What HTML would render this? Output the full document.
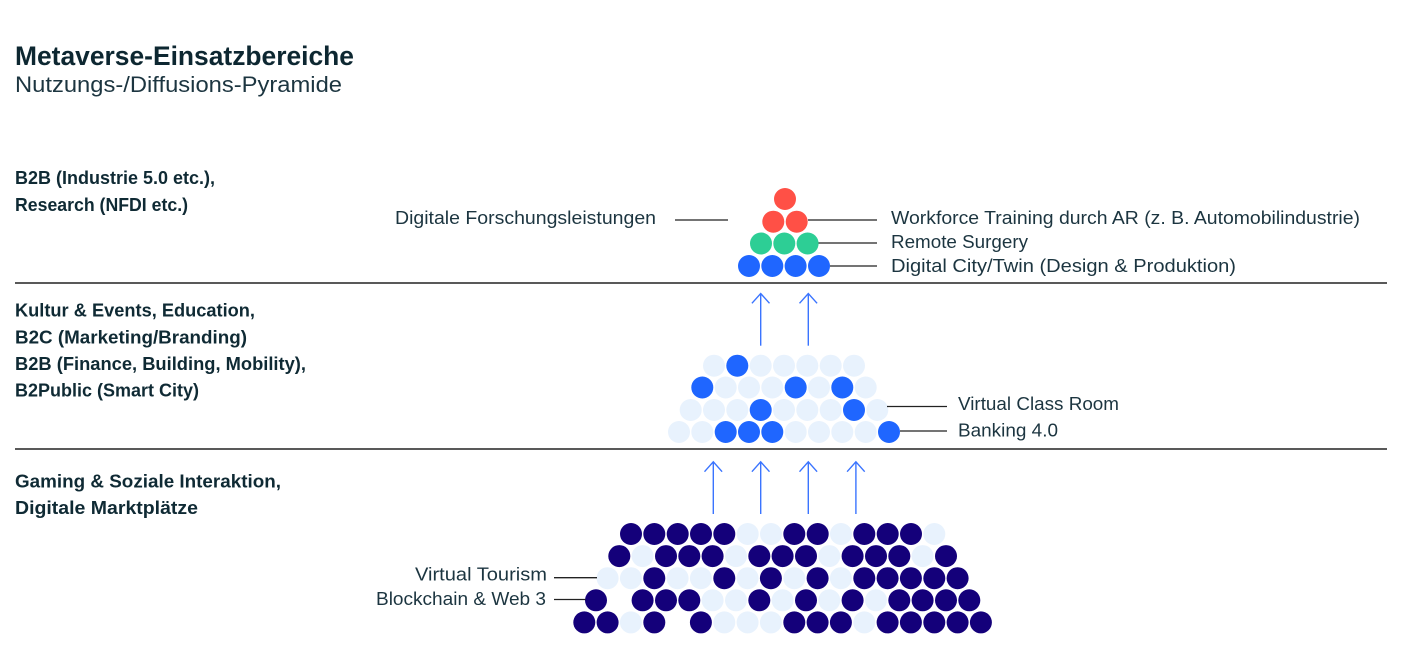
<!DOCTYPE html>
<html>
<head>
<meta charset="utf-8">
<style>
  html,body{margin:0;padding:0;background:#fff;}
  body{width:1408px;height:660px;overflow:hidden;}
  svg{display:block;}
  .t{font-family:"Liberation Sans",sans-serif;}
  .h{font-weight:bold;fill:#0d2731;}
  .lb{font-weight:bold;fill:#0f2a34;font-size:18px;}
  .rl{fill:#1c3540;font-size:18px;}
  .d{fill:#14007a;}
  .l{fill:#e8f2fd;}
  .b{fill:#1f66ff;}
  .r{fill:#ff5046;}
  .g{fill:#2dce95;}
  .ln{stroke:#222;stroke-width:1.3;fill:none;}
  .ar{stroke:#3a74ff;stroke-width:1.4;fill:none;}
</style>
</head>
<body>
<svg width="1408" height="660" viewBox="0 0 1408 660" xmlns="http://www.w3.org/2000/svg">
  <!-- Title -->
  <text class="t h" x="15" y="65" font-size="27" textLength="339" lengthAdjust="spacingAndGlyphs">Metaverse-Einsatzbereiche</text>
  <text class="t" x="15" y="92" font-size="22" fill="#1c3540" textLength="327" lengthAdjust="spacingAndGlyphs">Nutzungs-/Diffusions-Pyramide</text>

  <!-- Left labels -->
  <text class="t lb" x="15" y="184" textLength="200" lengthAdjust="spacingAndGlyphs">B2B (Industrie 5.0 etc.),</text>
  <text class="t lb" x="15" y="211" textLength="173" lengthAdjust="spacingAndGlyphs">Research (NFDI etc.)</text>

  <text class="t lb" x="15" y="316.5" textLength="240" lengthAdjust="spacingAndGlyphs">Kultur &amp; Events, Education,</text>
  <text class="t lb" x="15" y="343.5" textLength="232" lengthAdjust="spacingAndGlyphs">B2C (Marketing/Branding)</text>
  <text class="t lb" x="15" y="370" textLength="291" lengthAdjust="spacingAndGlyphs">B2B (Finance, Building, Mobility),</text>
  <text class="t lb" x="15" y="396.5" textLength="184" lengthAdjust="spacingAndGlyphs">B2Public (Smart City)</text>

  <text class="t lb" x="15" y="487.5" textLength="266" lengthAdjust="spacingAndGlyphs">Gaming &amp; Soziale Interaktion,</text>
  <text class="t lb" x="15" y="514" textLength="183" lengthAdjust="spacingAndGlyphs">Digitale Marktplätze</text>

  <!-- Rules -->
  <line x1="15" y1="283" x2="1387" y2="283" stroke="#222" stroke-width="1.5"/>
  <line x1="15" y1="449" x2="1387" y2="449" stroke="#222" stroke-width="1.5"/>

  <!-- Top pyramid -->
  <circle class="r" cx="785" cy="199" r="11"/>
  <circle class="r" cx="773.3" cy="221.7" r="11"/>
  <circle class="r" cx="796.7" cy="221.7" r="11"/>
  <circle class="g" cx="761" cy="243.5" r="11"/>
  <circle class="g" cx="784.3" cy="243.5" r="11"/>
  <circle class="g" cx="807.6" cy="243.5" r="11"/>
  <circle class="b" cx="749" cy="266" r="11"/>
  <circle class="b" cx="772.3" cy="266" r="11"/>
  <circle class="b" cx="795.6" cy="266" r="11"/>
  <circle class="b" cx="819" cy="266" r="11"/>

  <!-- Top labels -->
  <text class="t rl" x="395" y="224" textLength="261" lengthAdjust="spacingAndGlyphs">Digitale Forschungsleistungen</text>
  <line class="ln" x1="675" y1="220" x2="728" y2="220"/>
  <line class="ln" x1="808" y1="220" x2="877" y2="220"/>
  <line class="ln" x1="818.5" y1="243" x2="877" y2="243"/>
  <line class="ln" x1="830" y1="266" x2="877" y2="266"/>
  <text class="t rl" x="891" y="224" textLength="469" lengthAdjust="spacingAndGlyphs">Workforce Training durch AR (z. B. Automobilindustrie)</text>
  <text class="t rl" x="891" y="248" textLength="137" lengthAdjust="spacingAndGlyphs">Remote Surgery</text>
  <text class="t rl" x="891" y="272" textLength="345" lengthAdjust="spacingAndGlyphs">Digital City/Twin (Design &amp; Produktion)</text>

  <!-- Top arrows -->
  <line class="ar" x1="760.7" y1="345.7" x2="760.7" y2="294"/>
  <polyline class="ar" points="751.9,303.3 760.7,293.5 769.5,303.3"/>
  <line class="ar" x1="808.3" y1="345.7" x2="808.3" y2="294"/>
  <polyline class="ar" points="799.5,303.3 808.3,293.5 817.1,303.3"/>

  <!-- Middle pyramid -->
  <!-- row1 -->
  <circle class="l" cx="714" cy="365.7" r="11"/>
  <circle class="b" cx="737.3" cy="365.7" r="11"/>
  <circle class="l" cx="760.7" cy="365.7" r="11"/>
  <circle class="l" cx="784" cy="365.7" r="11"/>
  <circle class="l" cx="807.3" cy="365.7" r="11"/>
  <circle class="l" cx="830.7" cy="365.7" r="11"/>
  <circle class="l" cx="854" cy="365.7" r="11"/>
  <!-- row2 -->
  <circle class="b" cx="702.3" cy="387.5" r="11"/>
  <circle class="l" cx="725.7" cy="387.5" r="11"/>
  <circle class="l" cx="749" cy="387.5" r="11"/>
  <circle class="l" cx="772.3" cy="387.5" r="11"/>
  <circle class="b" cx="795.7" cy="387.5" r="11"/>
  <circle class="l" cx="819" cy="387.5" r="11"/>
  <circle class="b" cx="842.3" cy="387.5" r="11"/>
  <circle class="l" cx="865.7" cy="387.5" r="11"/>
  <!-- row3 -->
  <circle class="l" cx="690.7" cy="410" r="11"/>
  <circle class="l" cx="714" cy="410" r="11"/>
  <circle class="l" cx="737.3" cy="410" r="11"/>
  <circle class="b" cx="760.7" cy="410" r="11"/>
  <circle class="l" cx="784" cy="410" r="11"/>
  <circle class="l" cx="807.3" cy="410" r="11"/>
  <circle class="l" cx="830.7" cy="410" r="11"/>
  <circle class="b" cx="854" cy="410" r="11"/>
  <circle class="l" cx="877.3" cy="410" r="11"/>
  <!-- row4 -->
  <circle class="l" cx="679" cy="432" r="11"/>
  <circle class="l" cx="702.3" cy="432" r="11"/>
  <circle class="b" cx="725.7" cy="432" r="11"/>
  <circle class="b" cx="749" cy="432" r="11"/>
  <circle class="b" cx="772.3" cy="432" r="11"/>
  <circle class="l" cx="795.7" cy="432" r="11"/>
  <circle class="l" cx="819" cy="432" r="11"/>
  <circle class="l" cx="842.3" cy="432" r="11"/>
  <circle class="l" cx="865.7" cy="432" r="11"/>
  <circle class="b" cx="889" cy="432" r="11"/>

  <!-- Middle labels -->
  <line class="ln" x1="887" y1="406.5" x2="947" y2="406.5"/>
  <line class="ln" x1="900" y1="431" x2="947" y2="431"/>
  <text class="t rl" x="958" y="410" textLength="161" lengthAdjust="spacingAndGlyphs">Virtual Class Room</text>
  <text class="t rl" x="958" y="436.5" textLength="100" lengthAdjust="spacingAndGlyphs">Banking 4.0</text>

  <!-- Bottom arrows -->
  <line class="ar" x1="713.3" y1="514" x2="713.3" y2="462.3"/>
  <polyline class="ar" points="704.5,471.7 713.3,461.8 722.1,471.7"/>
  <line class="ar" x1="760.7" y1="514" x2="760.7" y2="462.3"/>
  <polyline class="ar" points="751.9,471.7 760.7,461.8 769.5,471.7"/>
  <line class="ar" x1="808.3" y1="514" x2="808.3" y2="462.3"/>
  <polyline class="ar" points="799.5,471.7 808.3,461.8 817.1,471.7"/>
  <line class="ar" x1="855.9" y1="514" x2="855.9" y2="462.3"/>
  <polyline class="ar" points="847.1,471.7 855.9,461.8 864.7,471.7"/>

  <!-- Bottom pyramid -->
  <!-- row1 y=534 : D D D D D L L D D L D D D L -->
  <circle class="d" cx="631.0" cy="534" r="11"/>
  <circle class="d" cx="654.3" cy="534" r="11"/>
  <circle class="d" cx="677.7" cy="534" r="11"/>
  <circle class="d" cx="701.0" cy="534" r="11"/>
  <circle class="d" cx="724.3" cy="534" r="11"/>
  <circle class="l" cx="747.7" cy="534" r="11"/>
  <circle class="l" cx="771.0" cy="534" r="11"/>
  <circle class="d" cx="794.3" cy="534" r="11"/>
  <circle class="d" cx="817.7" cy="534" r="11"/>
  <circle class="l" cx="841.0" cy="534" r="11"/>
  <circle class="d" cx="864.3" cy="534" r="11"/>
  <circle class="d" cx="887.7" cy="534" r="11"/>
  <circle class="d" cx="911.0" cy="534" r="11"/>
  <circle class="l" cx="934.3" cy="534" r="11"/>
  <!-- row2 y=556.1 : D L D D D L D D D L D D D L D -->
  <circle class="d" cx="619.3" cy="556.1" r="11"/>
  <circle class="l" cx="642.6" cy="556.1" r="11"/>
  <circle class="d" cx="666.0" cy="556.1" r="11"/>
  <circle class="d" cx="689.3" cy="556.1" r="11"/>
  <circle class="d" cx="712.6" cy="556.1" r="11"/>
  <circle class="l" cx="736.0" cy="556.1" r="11"/>
  <circle class="d" cx="759.3" cy="556.1" r="11"/>
  <circle class="d" cx="782.6" cy="556.1" r="11"/>
  <circle class="d" cx="806.0" cy="556.1" r="11"/>
  <circle class="l" cx="829.3" cy="556.1" r="11"/>
  <circle class="d" cx="852.6" cy="556.1" r="11"/>
  <circle class="d" cx="876.0" cy="556.1" r="11"/>
  <circle class="d" cx="899.3" cy="556.1" r="11"/>
  <circle class="l" cx="922.6" cy="556.1" r="11"/>
  <circle class="d" cx="946.0" cy="556.1" r="11"/>
  <!-- row3 y=578.2 : L L D L L D L D L D L D D D D D -->
  <circle class="l" cx="607.6" cy="578.2" r="11"/>
  <circle class="l" cx="630.9" cy="578.2" r="11"/>
  <circle class="d" cx="654.3" cy="578.2" r="11"/>
  <circle class="l" cx="677.6" cy="578.2" r="11"/>
  <circle class="l" cx="700.9" cy="578.2" r="11"/>
  <circle class="d" cx="724.3" cy="578.2" r="11"/>
  <circle class="l" cx="747.6" cy="578.2" r="11"/>
  <circle class="d" cx="770.9" cy="578.2" r="11"/>
  <circle class="l" cx="794.3" cy="578.2" r="11"/>
  <circle class="d" cx="817.6" cy="578.2" r="11"/>
  <circle class="l" cx="840.9" cy="578.2" r="11"/>
  <circle class="d" cx="864.3" cy="578.2" r="11"/>
  <circle class="d" cx="887.6" cy="578.2" r="11"/>
  <circle class="d" cx="910.9" cy="578.2" r="11"/>
  <circle class="d" cx="934.3" cy="578.2" r="11"/>
  <circle class="d" cx="957.6" cy="578.2" r="11"/>
  <!-- row4 y=600.3 : D _ D D D L L D L D L D L D D D D -->
  <circle class="d" cx="596.0" cy="600.3" r="11"/>
  <circle class="d" cx="642.6" cy="600.3" r="11"/>
  <circle class="d" cx="666.0" cy="600.3" r="11"/>
  <circle class="d" cx="689.3" cy="600.3" r="11"/>
  <circle class="l" cx="712.6" cy="600.3" r="11"/>
  <circle class="l" cx="736.0" cy="600.3" r="11"/>
  <circle class="d" cx="759.3" cy="600.3" r="11"/>
  <circle class="l" cx="782.6" cy="600.3" r="11"/>
  <circle class="d" cx="806.0" cy="600.3" r="11"/>
  <circle class="l" cx="829.3" cy="600.3" r="11"/>
  <circle class="d" cx="852.6" cy="600.3" r="11"/>
  <circle class="l" cx="876.0" cy="600.3" r="11"/>
  <circle class="d" cx="899.3" cy="600.3" r="11"/>
  <circle class="d" cx="922.6" cy="600.3" r="11"/>
  <circle class="d" cx="946.0" cy="600.3" r="11"/>
  <circle class="d" cx="969.3" cy="600.3" r="11"/>
  <!-- row5 y=622.4 : D D L D _ D L L L D D D L D D D D D -->
  <circle class="d" cx="584.3" cy="622.4" r="11"/>
  <circle class="d" cx="607.6" cy="622.4" r="11"/>
  <circle class="l" cx="630.9" cy="622.4" r="11"/>
  <circle class="d" cx="654.3" cy="622.4" r="11"/>
  <circle class="d" cx="700.9" cy="622.4" r="11"/>
  <circle class="l" cx="724.3" cy="622.4" r="11"/>
  <circle class="l" cx="747.6" cy="622.4" r="11"/>
  <circle class="l" cx="770.9" cy="622.4" r="11"/>
  <circle class="d" cx="794.3" cy="622.4" r="11"/>
  <circle class="d" cx="817.6" cy="622.4" r="11"/>
  <circle class="d" cx="840.9" cy="622.4" r="11"/>
  <circle class="l" cx="864.3" cy="622.4" r="11"/>
  <circle class="d" cx="887.6" cy="622.4" r="11"/>
  <circle class="d" cx="910.9" cy="622.4" r="11"/>
  <circle class="d" cx="934.3" cy="622.4" r="11"/>
  <circle class="d" cx="957.6" cy="622.4" r="11"/>
  <circle class="d" cx="980.9" cy="622.4" r="11"/>

  <!-- Bottom labels -->
  <text class="t rl" x="415" y="580.5" textLength="132" lengthAdjust="spacingAndGlyphs">Virtual Tourism</text>
  <text class="t rl" x="376" y="605" textLength="170" lengthAdjust="spacingAndGlyphs">Blockchain &amp; Web 3</text>
  <line class="ln" x1="554" y1="577.7" x2="597" y2="577.7"/>
  <line class="ln" x1="554" y1="599.5" x2="585.5" y2="599.5"/>
</svg>
</body>
</html>
